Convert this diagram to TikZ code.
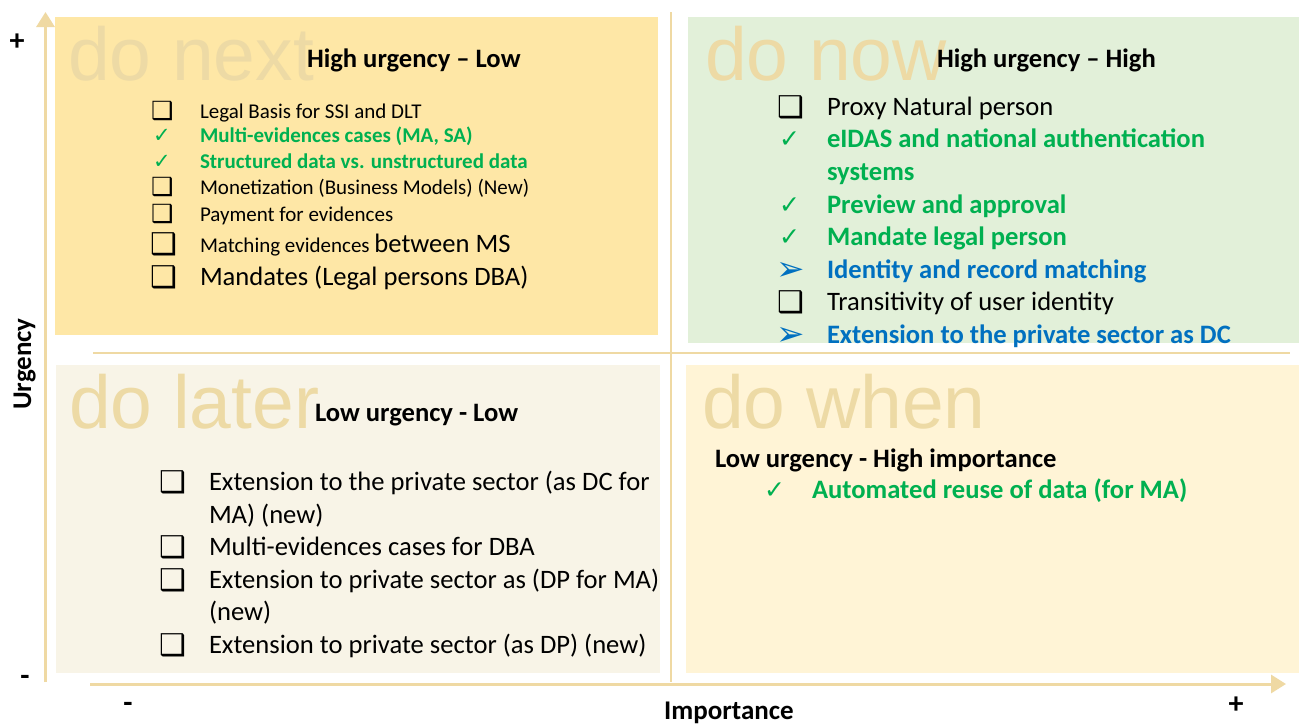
\documentclass[tikz,border=0pt]{standalone}
\usepackage{fontspec}
\setmainfont{Carlito}
\newfontfamily\wmfont{Liberation Sans}
\newfontfamily\symfont{DejaVu Sans}
\usetikzlibrary{arrows.meta}
\definecolor{tlfill}{HTML}{FEE7A6}
\definecolor{trfill}{HTML}{E2F0D9}
\definecolor{blfill}{HTML}{F8F4E7}
\definecolor{brfill}{HTML}{FFF4D6}
\definecolor{wmcol}{HTML}{EDDAA5}
\definecolor{axcol}{HTML}{EFD9A3}
\definecolor{mygreen}{HTML}{00B050}
\definecolor{myblue}{HTML}{0070C0}
\newcommand\cbx{❑}
\newcommand\chk{✓}
\newcommand\arw{➢}
\begin{document}
\begin{tikzpicture}[x=1pt,y=-1pt,
  quad/.style={draw=none, inner sep=0pt, outer sep=0pt, anchor=north west},
  txt/.style={anchor=base west, inner sep=0pt, outer sep=0pt},
  wm/.style={txt, font=\wmfont\fontsize{75}{80}\selectfont, text=wmcol},
  ttl/.style={txt, font=\fontsize{26.6}{32}\selectfont\bfseries},
  item/.style={txt, font=\fontsize{26.6}{32}\selectfont},
  sitem/.style={txt, font=\fontsize{21}{26}\selectfont},
  gitem/.style={txt, font=\fontsize{26.6}{32}\selectfont\bfseries, text=mygreen},
  sgitem/.style={txt, font=\fontsize{21}{26}\selectfont\bfseries, text=mygreen},
  bitem/.style={txt, font=\fontsize{26.6}{32}\selectfont\bfseries, text=myblue},
  bul/.style={txt, font=\symfont\fontsize{#1}{#1}\selectfont},
  axis/.style={draw=axcol, line width=3pt, -{Triangle[length=15pt,width=18pt]}},
  midline/.style={draw=axcol, line width=2.5pt},
  axlbl/.style={inner sep=0pt, font=\fontsize{27}{32}\selectfont\bfseries},
  sign/.style={inner sep=0pt, font=\fontsize{30}{32}\selectfont\bfseries},
]
\useasboundingbox (0,0) rectangle (1299,726);
\fill[white] (0,0) rectangle (1299,726);

% quadrants
\node[quad, fill=tlfill, minimum width=603pt, minimum height=318pt] (tl) at (55,17) {};
\node[quad, fill=trfill, minimum width=611pt, minimum height=326pt] (tr) at (688,17) {};
\node[quad, fill=blfill, minimum width=604pt, minimum height=308pt] (bl) at (56,365) {};
\node[quad, fill=brfill, minimum width=613pt, minimum height=308pt] (br) at (686,365) {};

% axes and cross lines
\coordinate (vbot) at (45.5,682);
\coordinate (vtop) at (45.5,12);
\coordinate (hleft) at (90,684);
\coordinate (hright) at (1286,684);
\coordinate (mleft) at (93,353);
\coordinate (mright) at (1290,353);
\coordinate (mtop) at (671,12);
\coordinate (mbot) at (671,682);
\draw[axis] (vbot) -- (vtop);
\draw[axis] (hleft) -- (hright);
\draw[midline] (mleft) -- (mright);
\draw[midline] (mtop) -- (mbot);

% axis labels
\node[sign] (plusU) at (17,42) {+};
\node[sign] (minusU) at (25,680) {-};
\node[sign] (minusI) at (128,707) {-};
\node[sign] (plusI) at (1236,705) {+};
\node[axlbl, rotate=90, anchor=base] (urg) at (31,364) {Urgency};
\node[axlbl, anchor=base] (imp) at (729,719) {Importance};

% watermarks
\node[wm] (wnext) at (68,80) {do next};
\node[wm] (wnow) at (705,80) {do now};
\node[wm] (wlater) at (69,428) {do later};
\node[wm] (wwhen) at (702,428) {do when};

% titles
\node[ttl] (t1) at (307,67) {High urgency – Low};
\node[ttl] (t2) at (937,67) {High urgency – High};
\node[ttl] (t3) at (315,421) {Low urgency - Low};
\node[ttl] (t4) at (715,467) {Low urgency - High importance};

% top-left items
\node[bul=25] (a1b) at (151,119) {\cbx};
\node[sitem] (a1) at (200,118) {Legal Basis for SSI and DLT};
\node[bul=21, text=mygreen] (a2b) at (153,142) {\chk};
\node[sgitem] (a2) at (200,142) {Multi-evidences cases (MA, SA)};
\node[bul=21, text=mygreen] (a3b) at (153,168) {\chk};
\node[sgitem] (a3) at (200,168) {Structured data vs. unstructured data};
\node[bul=25] (a4b) at (151,195) {\cbx};
\node[sitem] (a4) at (200,194) {Monetization (Business Models) (New)};
\node[bul=25] (a5b) at (151,222) {\cbx};
\node[sitem] (a5) at (200,221) {Payment for evidences};
\node[bul=30] (a6b) at (150,254) {\cbx};
\node[sitem] (a6) at (200,252) {Matching evidences {\fontsize{26.6}{32}\selectfont between MS}};
\node[bul=30] (a7b) at (150,287) {\cbx};
\node[item] (a7) at (200,285) {Mandates (Legal persons DBA)};

% top-right items
\node[bul=30] (b1b) at (777,117) {\cbx};
\node[item] (b1) at (827,115) {Proxy Natural person};
\node[bul=25, text=mygreen] (b2b) at (779,147) {\chk};
\node[gitem] (b2) at (827,147) {eIDAS and national authentication};
\node[gitem] (b2c) at (827,180) {systems};
\node[bul=25, text=mygreen] (b3b) at (779,213) {\chk};
\node[gitem] (b3) at (827,213) {Preview and approval};
\node[bul=25, text=mygreen] (b4b) at (779,245) {\chk};
\node[gitem] (b4) at (827,245) {Mandate legal person};
\node[bul=34, text=myblue] (b5b) at (776,280) {\arw};
\node[bitem] (b5) at (827,278) {Identity and record matching};
\node[bul=30] (b6b) at (777,312) {\cbx};
\node[item] (b6) at (827,310) {Transitivity of user identity};
\node[bul=34, text=myblue] (b7b) at (776,345) {\arw};
\node[bitem] (b7) at (827,343) {Extension to the private sector as DC};

% bottom-left items
\node[bul=30] (c1b) at (159,492) {\cbx};
\node[item] (c1) at (209,490) {Extension to the private sector (as DC for};
\node[item] (c1c) at (209,523) {MA) (new)};
\node[bul=30] (c2b) at (159,557) {\cbx};
\node[item] (c2) at (209,555) {Multi-evidences cases for DBA};
\node[bul=30] (c3b) at (159,590) {\cbx};
\node[item] (c3) at (209,588) {Extension to private sector as (DP for MA)};
\node[item] (c3c) at (209,620) {(new)};
\node[bul=30] (c4b) at (159,655) {\cbx};
\node[item] (c4) at (209,653) {Extension to private sector (as DP) (new)};

% bottom-right items
\node[bul=25, text=mygreen] (d1b) at (764,498) {\chk};
\node[gitem] (d1) at (812,498) {Automated reuse of data (for MA)};
\end{tikzpicture}
\end{document}
